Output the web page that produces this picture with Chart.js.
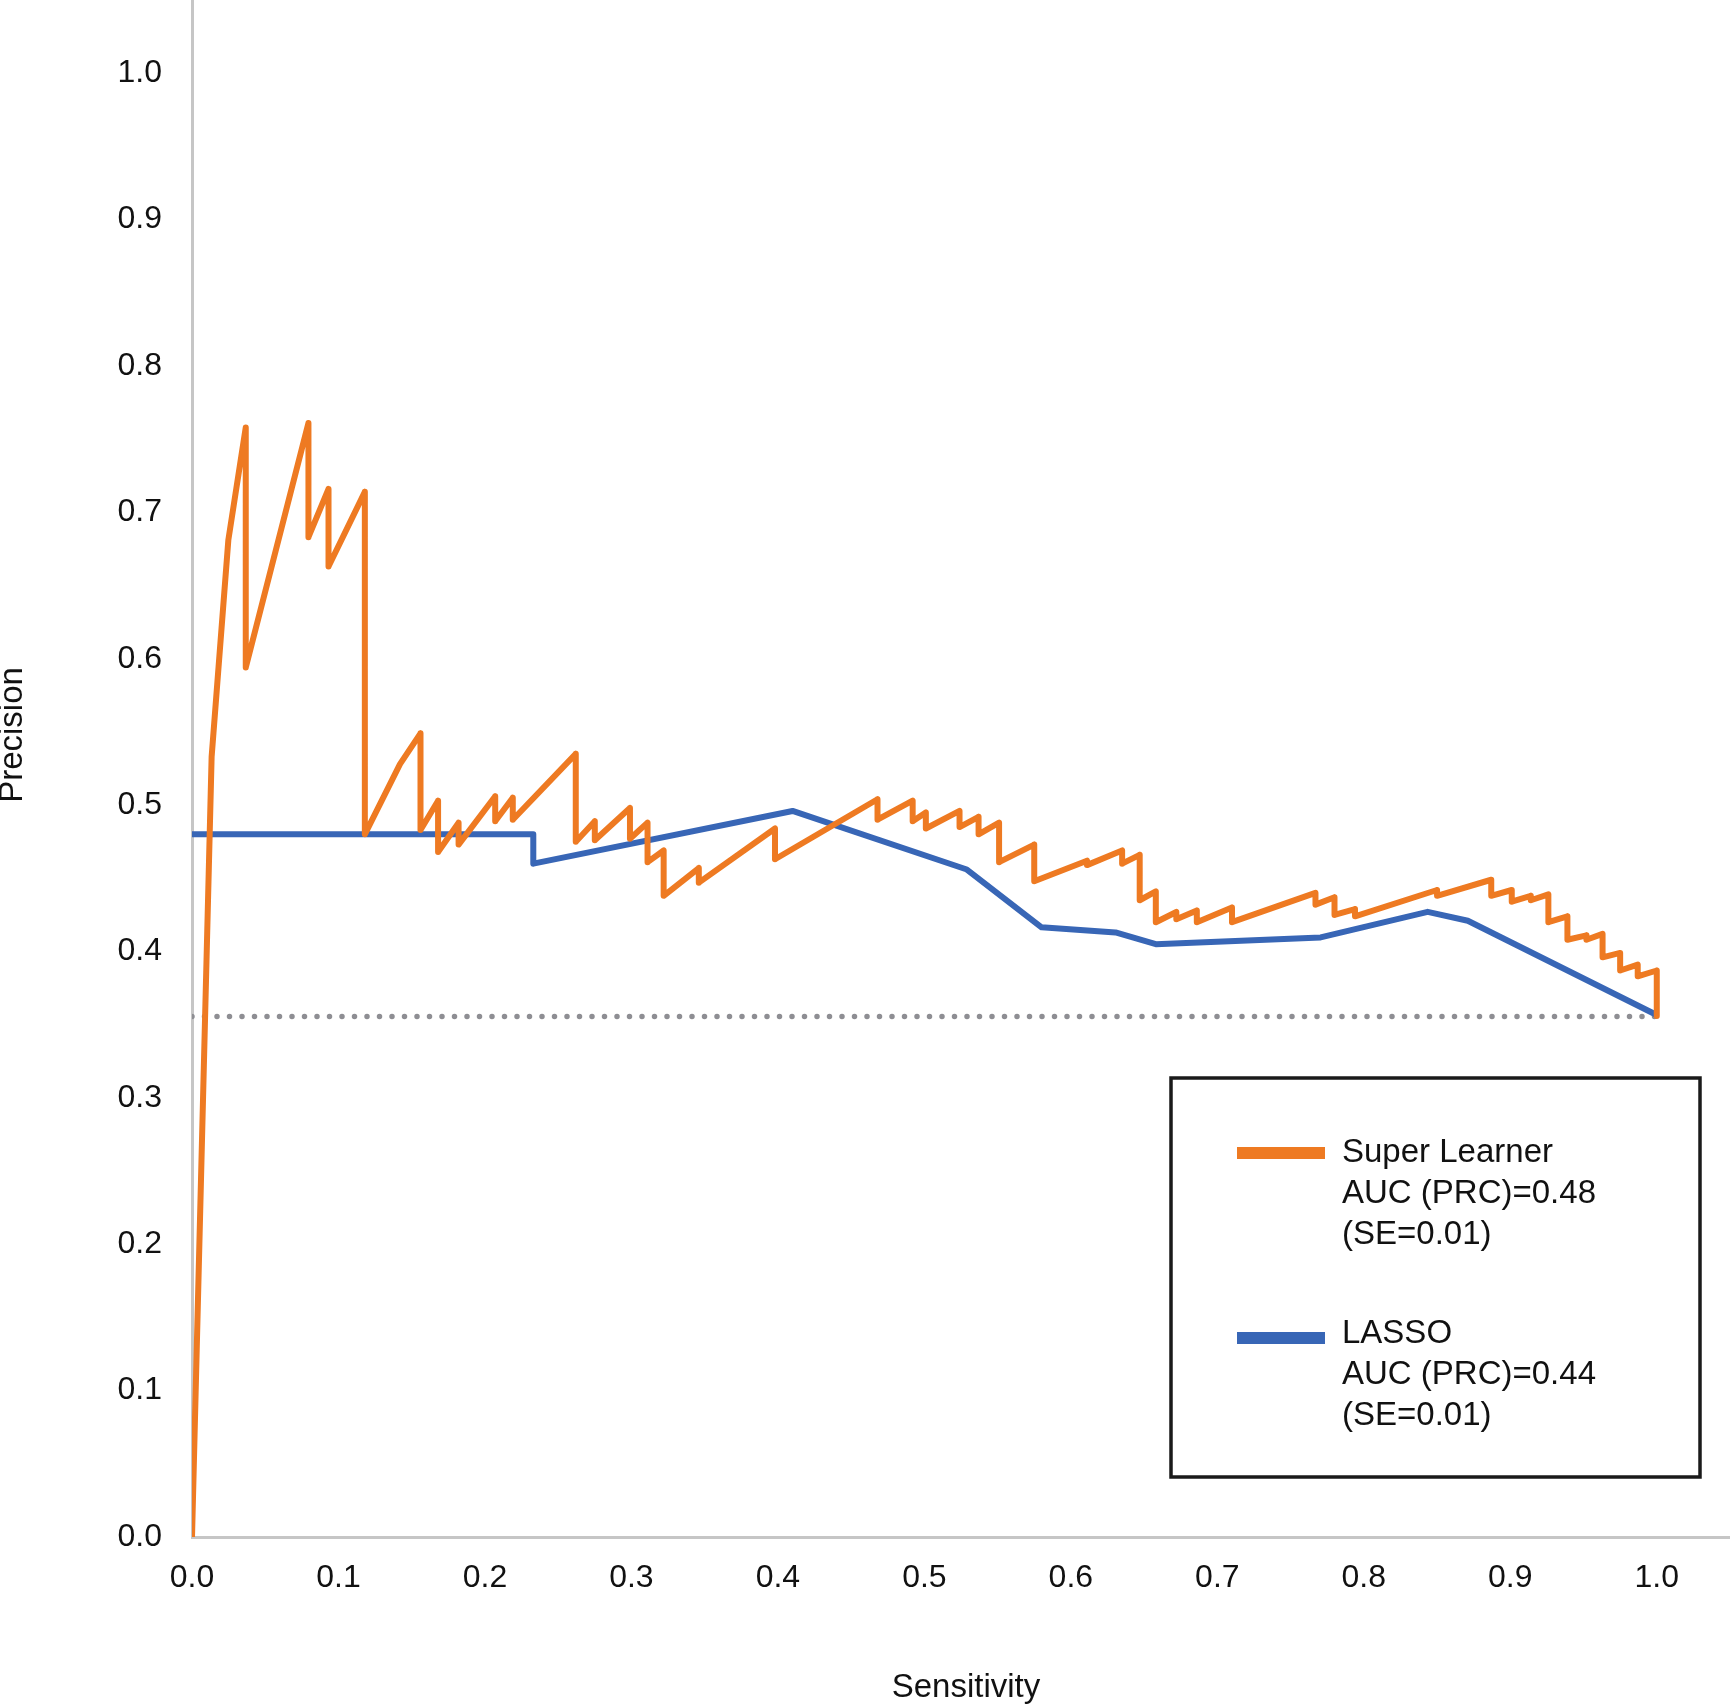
<!DOCTYPE html>
<html>
<head>
  <meta charset="utf-8">
  <title>Precision-Recall Curve</title>
  <script src="https://cdn.jsdelivr.net/npm/chart.js@4.4.0/dist/chart.umd.min.js"></script>
  <style>
    html, body { margin: 0; padding: 0; background: #fff; }
    #wrap { width: 1730px; height: 1707px; position: relative; }
  </style>
</head>
<body>
<div id="wrap"><canvas id="prc"></canvas></div>
<script>
// Super Learner curve (sensitivity / precision)
const superX = [0, 0.0134, 0.0248, 0.0367, 0.0367, 0.0795, 0.0795, 0.0932, 0.0932, 0.118, 0.118,
  0.142, 0.156, 0.156, 0.168, 0.168, 0.182, 0.182, 0.207, 0.207, 0.219, 0.219, 0.262, 0.262,
  0.275, 0.275, 0.299, 0.299, 0.311, 0.311, 0.322, 0.322, 0.346, 0.346, 0.398, 0.398,
  0.468, 0.468, 0.492, 0.492, 0.501, 0.501, 0.524, 0.524, 0.537, 0.537, 0.551, 0.551,
  0.575, 0.575, 0.611, 0.611, 0.635, 0.635, 0.647, 0.647, 0.658, 0.658, 0.672, 0.672,
  0.686, 0.686, 0.710, 0.710, 0.767, 0.767, 0.780, 0.780, 0.794, 0.794, 0.850, 0.850,
  0.887, 0.887, 0.901, 0.901, 0.914, 0.914, 0.926, 0.926, 0.939, 0.939, 0.952, 0.952,
  0.963, 0.963, 0.975, 0.975, 0.987, 0.987, 1.0, 1.0];
const superY = [0, 0.533, 0.681, 0.758, 0.594, 0.761, 0.683, 0.716, 0.663, 0.714, 0.480,
  0.528, 0.549, 0.483, 0.503, 0.468, 0.488, 0.473, 0.506, 0.489, 0.505, 0.490, 0.535, 0.475,
  0.489, 0.476, 0.498, 0.477, 0.488, 0.461, 0.469, 0.438, 0.457, 0.447, 0.484, 0.463,
  0.504, 0.490, 0.503, 0.489, 0.495, 0.484, 0.496, 0.485, 0.492, 0.480, 0.488, 0.461,
  0.473, 0.448, 0.462, 0.459, 0.469, 0.460, 0.466, 0.435, 0.441, 0.420, 0.427, 0.422,
  0.428, 0.420, 0.430, 0.420, 0.440, 0.432, 0.437, 0.425, 0.429, 0.424, 0.442, 0.438,
  0.449, 0.438, 0.442, 0.434, 0.438, 0.435, 0.439, 0.420, 0.424, 0.408, 0.411, 0.408,
  0.412, 0.396, 0.399, 0.387, 0.391, 0.383, 0.387, 0.356];

// LASSO curve
const lassoX = [0, 0.233, 0.233, 0.410, 0.529, 0.580, 0.6305, 0.658, 0.7705, 0.8436, 0.871, 1.0];
const lassoY = [0.480, 0.480, 0.460, 0.496, 0.456, 0.4165, 0.413, 0.405, 0.4096, 0.4271, 0.421, 0.3566];

// no-skill baseline (prevalence)
const baselineX = [0, 1.0];
const baselineY = [0.3555, 0.3555];

const xTicks = [0, 0.1, 0.2, 0.3, 0.4, 0.5, 0.6, 0.7, 0.8, 0.9, 1.0];
const yTicks = [0, 0.1, 0.2, 0.3, 0.4, 0.5, 0.6, 0.7, 0.8, 0.9, 1.0];

const legendItems = [
  { color: '#EE7A22', lines: ['Super Learner', 'AUC (PRC)=0.48', '(SE=0.01)'] },
  { color: '#3866B6', lines: ['LASSO', 'AUC (PRC)=0.44', '(SE=0.01)'] },
];

const FONT = '"Liberation Sans", Arial, sans-serif';
const toPoints = (xs, ys) => xs.map((x, i) => ({ x: x, y: ys[i] }));

// axis titles + boxed legend drawn on top of the chart
const overlay = {
  id: 'overlay',
  afterDraw(chart) {
    const ctx = chart.ctx;
    ctx.save();
    ctx.fillStyle = '#111';
    ctx.font = '33px ' + FONT;
    ctx.textAlign = 'center';
    ctx.textBaseline = 'middle';
    ctx.fillText('Sensitivity', 966, 1688);
    ctx.translate(13, 735);
    ctx.rotate(-Math.PI / 2);
    ctx.fillText('Precision', 0, 0);
    ctx.restore();

    ctx.save();
    ctx.strokeStyle = '#1a1a1a';
    ctx.lineWidth = 3.5;
    ctx.strokeRect(1171, 1078, 529, 399);
    ctx.font = '33px ' + FONT;
    ctx.textAlign = 'left';
    ctx.textBaseline = 'middle';
    const mids = [1153, 1334];
    legendItems.forEach((item, k) => {
      ctx.fillStyle = item.color;
      ctx.fillRect(1237, mids[k] - 6 + (k ? 4 : 0), 88, 12);
      ctx.fillStyle = '#111';
      item.lines.forEach((t, j) => ctx.fillText(t, 1342, mids[k] + j * 41));
    });
    ctx.restore();
  }
};

const noPad = s => { s.paddingTop = 0; s.paddingBottom = 0; s.paddingLeft = 0; s.paddingRight = 0; };

new Chart(document.getElementById('prc'), {
  type: 'line',
  data: {
    datasets: [
      {
        label: 'Super Learner',
        data: toPoints(superX, superY),
        borderColor: '#EE7A22',
        borderWidth: 6,
        borderJoinStyle: 'round',
        borderCapStyle: 'round',
        pointRadius: 0,
        tension: 0,
      },
      {
        label: 'LASSO',
        data: toPoints(lassoX, lassoY),
        borderColor: '#3866B6',
        borderWidth: 6,
        borderJoinStyle: 'round',
        pointRadius: 0,
        tension: 0,
      },
      {
        label: 'Baseline',
        data: toPoints(baselineX, baselineY),
        borderColor: '#8e8e93',
        borderWidth: 5.5,
        borderDash: [0, 12.5],
        borderCapStyle: 'round',
        pointRadius: 0,
      },
    ]
  },
  options: {
    responsive: true,
    maintainAspectRatio: false,
    animation: false,
    layout: { padding: 0 },
    plugins: {
      legend: { display: false },
      title: { display: false },
      tooltip: { enabled: false },
    },
    scales: {
      x: {
        type: 'linear',
        min: 0,
        max: 1.05,
        afterBuildTicks: s => { s.ticks = xTicks.map(v => ({ value: v })); },
        afterFit: s => { s.height = 170; noPad(s); },
        grid: { display: false, drawTicks: false },
        border: { color: '#c6c6c6', width: 3 },
        ticks: {
          autoSkip: false,
          maxRotation: 0,
          padding: 22,
          color: '#111',
          font: { family: FONT, size: 32 },
          callback: v => v.toFixed(1),
        },
      },
      y: {
        min: 0,
        max: 1.05,
        afterBuildTicks: s => { s.ticks = yTicks.map(v => ({ value: v })); },
        afterFit: s => { s.width = 192; noPad(s); },
        grid: { display: false, drawTicks: false },
        border: { color: '#c6c6c6', width: 3 },
        ticks: {
          autoSkip: false,
          padding: 30,
          color: '#111',
          font: { family: FONT, size: 32 },
          callback: v => v.toFixed(1),
        },
      },
    }
  },
  plugins: [overlay]
});
</script>
</body>
</html>
